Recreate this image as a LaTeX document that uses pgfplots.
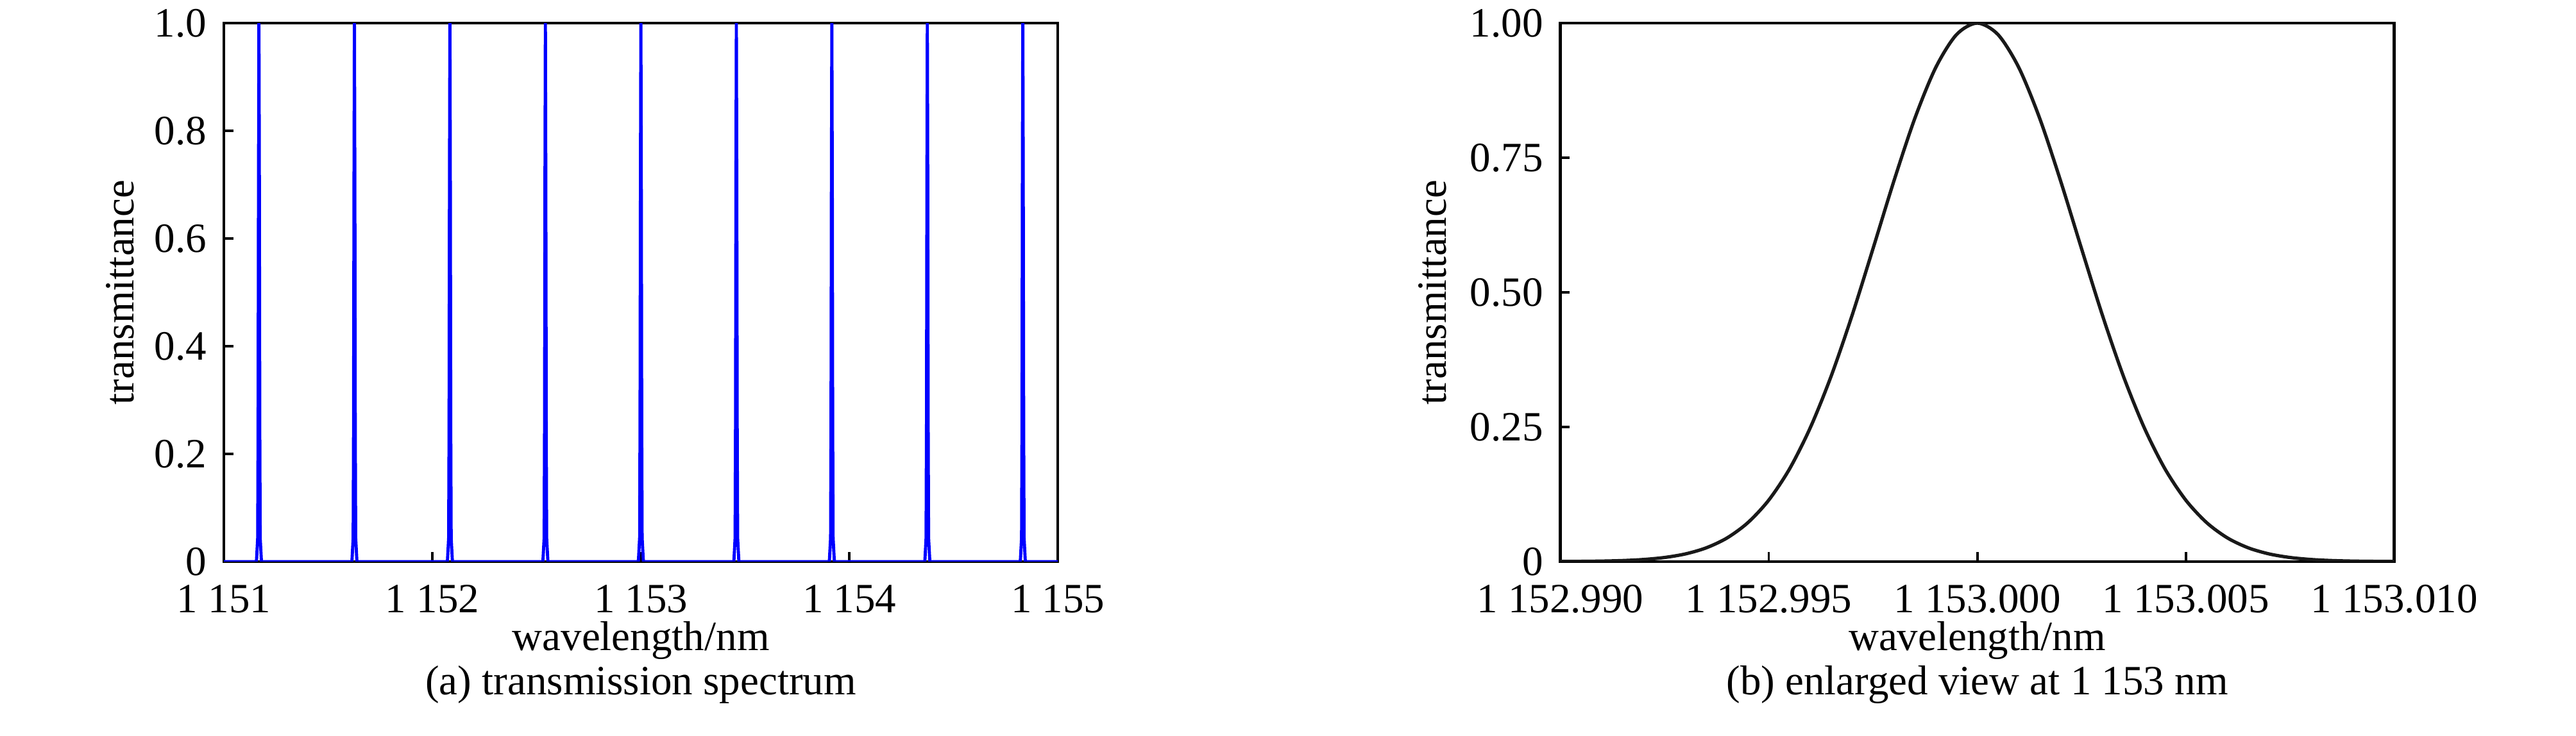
\documentclass[border=0pt]{standalone}
\usepackage{fontspec}
\setmainfont{Liberation Serif}
\usepackage{pgfplots}
\pgfplotsset{compat=1.18}

% wavelengths are stored as offsets (1151 nm in a, 1153 nm in b, 0.001 nm units in b)
\pgfplotsset{
  panel/.style={
    scale only axis,
    width=200pt, height=129.2pt,
    ymin=0, ymax=1,
    axis line style={line width=0.7pt},
    tick style={line width=0.6pt, black},
    major tick length=2.3pt,
    tick align=inside,
    xtick pos=bottom, ytick pos=left,
    xticklabel style={anchor=base, yshift=-12.3pt},
    yticklabel style={xshift=-0.6pt},
    xlabel style={at={(axis description cs:0.5,0)}, anchor=base, yshift=-21.3pt},
    clip mode=individual,
  },
}

\begin{document}
\begin{tikzpicture}
  \path[use as bounding box] (0,0) rectangle (617.8pt,176.6pt);

  % (a) full spectrum
  \begin{axis}[panel,
    at={(53.7pt,41.85pt)}, anchor=south west,
    xmin=0, xmax=4,
    xtick={0,1,2,3,4},
    xticklabels={1~151,1~152,1~153,1~154,1~155},
    ytick={0,0.2,0.4,0.6,0.8,1},
    yticklabels={0,0.2,0.4,0.6,0.8,1.0},
    xlabel={wavelength/nm},
    ylabel={transmittance},
    ylabel style={at={(axis description cs:-0.1245,0.5)}, anchor=center},
  ]
    \addplot[color=blue, line width=0.75pt] coordinates {
      (0.000,0) (0.156,0) (0.162,0.044) (0.164,0.25) (0.166,0.707) (0.168,1) (0.170,0.707) (0.172,0.25) (0.174,0.044) (0.180,0)
      (0.614,0) (0.620,0.044) (0.622,0.25) (0.624,0.707) (0.626,1) (0.628,0.707) (0.630,0.25) (0.632,0.044) (0.638,0)
      (1.072,0) (1.078,0.044) (1.080,0.25) (1.082,0.707) (1.084,1) (1.086,0.707) (1.088,0.25) (1.090,0.044) (1.096,0)
      (1.530,0) (1.536,0.044) (1.538,0.25) (1.540,0.707) (1.542,1) (1.544,0.707) (1.546,0.25) (1.548,0.044) (1.554,0)
      (1.988,0) (1.994,0.044) (1.996,0.25) (1.998,0.707) (2.000,1) (2.002,0.707) (2.004,0.25) (2.006,0.044) (2.012,0)
      (2.446,0) (2.452,0.044) (2.454,0.25) (2.456,0.707) (2.458,1) (2.460,0.707) (2.462,0.25) (2.464,0.044) (2.470,0)
      (2.904,0) (2.910,0.044) (2.912,0.25) (2.914,0.707) (2.916,1) (2.918,0.707) (2.920,0.25) (2.922,0.044) (2.928,0)
      (3.362,0) (3.368,0.044) (3.370,0.25) (3.372,0.707) (3.374,1) (3.376,0.707) (3.378,0.25) (3.380,0.044) (3.386,0)
      (3.820,0) (3.826,0.044) (3.828,0.25) (3.830,0.707) (3.832,1) (3.834,0.707) (3.836,0.25) (3.838,0.044) (3.844,0)
      (4.000,0)
    };
    \node[anchor=base] at (rel axis cs:0.5,0) [yshift=-32pt] {(a) transmission spectrum};
  \end{axis}

  % (b) zoom on the 1153 nm peak
  \begin{axis}[panel,
    at={(374.2pt,41.85pt)}, anchor=south west,
    xmin=-10, xmax=10,
    xtick={-10,-5,0,5,10},
    xticklabels={1~152.990,1~152.995,1~153.000,1~153.005,1~153.010},
    ytick={0,0.25,0.5,0.75,1},
    yticklabels={0,0.25,0.50,0.75,1.00},
    xlabel={wavelength/nm},
    ylabel={transmittance},
    ylabel style={at={(axis description cs:-0.153,0.5)}, anchor=center},
  ]
    \addplot[color=black!90, line width=0.8pt, smooth] coordinates {
      (-10,0.0002) (-9.5,0.0004) (-9,0.0009) (-8.5,0.0019) (-8,0.0039) (-7.5,0.0076)
      (-7,0.0142) (-6.5,0.0255) (-6,0.0439) (-5.5,0.0724) (-5,0.1142) (-4.5,0.1724)
      (-4,0.2494) (-3.5,0.3453) (-3,0.4578) (-2.5,0.5813) (-2,0.7066) (-1.5,0.8226)
      (-1,0.9169) (-0.5,0.9785) (0,1)
      (0.5,0.9785) (1,0.9169) (1.5,0.8226) (2,0.7066) (2.5,0.5813) (3,0.4578)
      (3.5,0.3453) (4,0.2494) (4.5,0.1724) (5,0.1142) (5.5,0.0724) (6,0.0439)
      (6.5,0.0255) (7,0.0142) (7.5,0.0076) (8,0.0039) (8.5,0.0019) (9,0.0009)
      (9.5,0.0004) (10,0.0002)
    };
    \node[anchor=base] at (rel axis cs:0.5,0) [yshift=-32pt] {(b) enlarged view at 1~153 nm};
  \end{axis}
\end{tikzpicture}
\end{document}
